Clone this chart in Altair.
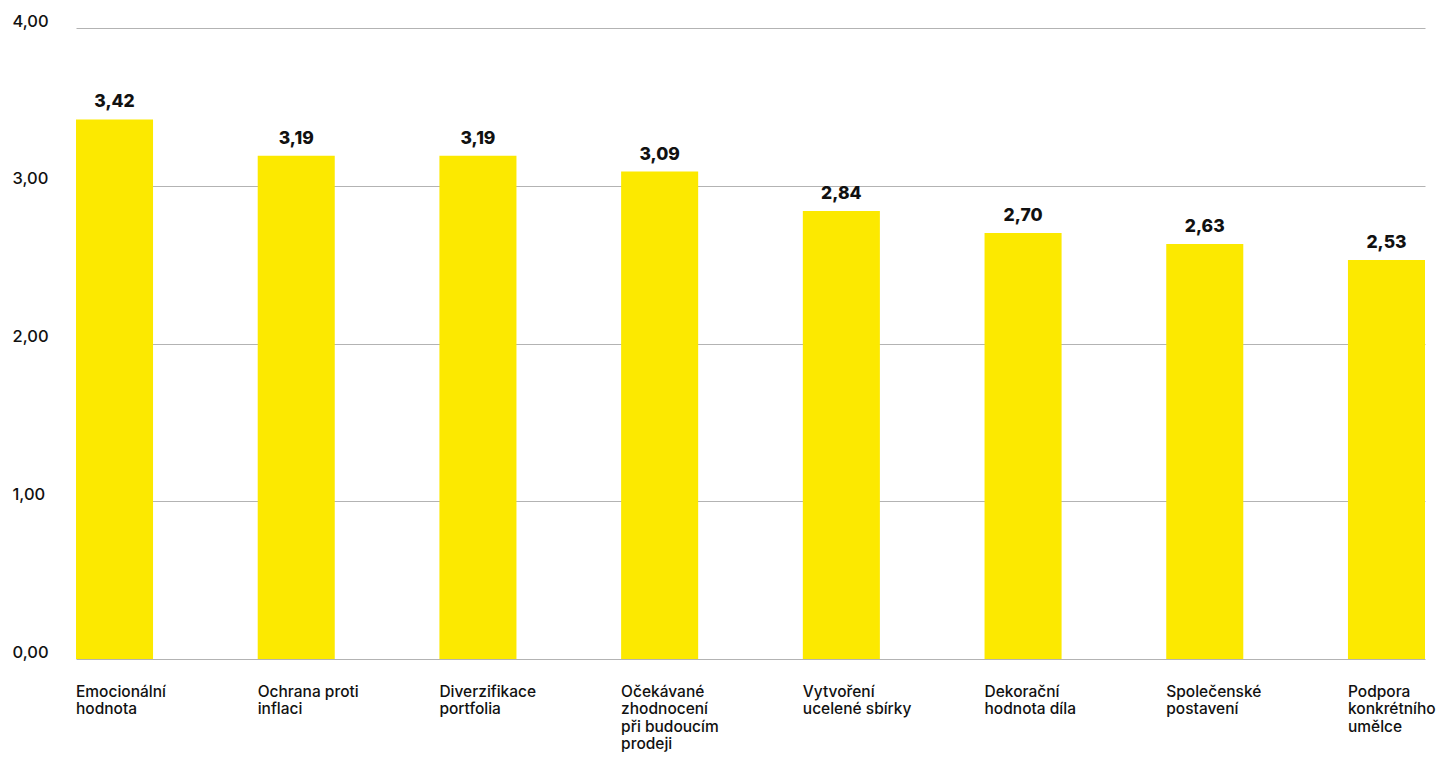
import altair as alt
import pandas as pd

categories = [
    "Emocionální\nhodnota",
    "Ochrana proti\ninflaci",
    "Diverzifikace\nportfolia",
    "Očekávané\nzhodnocení\npři budoucím\nprodeji",
    "Vytvoření\nucelené sbírky",
    "Dekorační\nhodnota díla",
    "Společenské\npostavení",
    "Podpora\nkonkrétního\numělce",
]
values = [3.42, 3.19, 3.19, 3.09, 2.84, 2.70, 2.63, 2.53]
y_ticks = [0, 1, 2, 3, 4]

df = pd.DataFrame({"cat": categories, "value": values})

FONT = "Inter"
PLOT_W = 1349
PAD_INNER = 0.576
step = PLOT_W / (len(categories) - PAD_INNER)
bar_w = step * (1 - PAD_INNER)

x = alt.X(
    "cat:N",
    sort=categories,
    scale=alt.Scale(paddingInner=PAD_INNER, paddingOuter=0),
    axis=alt.Axis(
        title=None,
        labelAlign="left",
        labelAngle=0,
        labelBaseline="top",
        labelPadding=25,
        labelOffset=-bar_w / 2,
        labelExpr="split(datum.label, '\\n')",
        labelLineHeight=17.5,
        labelFont=FONT,
        labelFontSize=15.5,
        labelFontWeight=500,
        labelColor="#111111",
        ticks=False,
        domain=False,
        grid=False,
        labelLimit=200,
        labelOverlap=False,
        labelBound=False,
    ),
)

y = alt.Y(
    "value:Q",
    scale=alt.Scale(domain=[0, 4], nice=False),
    axis=alt.Axis(
        title=None,
        values=y_ticks,
        labelExpr="replace(format(datum.value, '.2f'), '.', ',')",
        labelAlign="left",
        labelBaseline="alphabetic",
        labelOffset=-2,
        labelPadding=64,
        labelFont=FONT,
        labelFontSize=16.5,
        labelFontWeight=500,
        labelColor="#111111",
        ticks=False,
        domain=False,
        grid=True,
        gridColor="#b3b3b3",
        gridWidth=1,
    ),
)

bars = alt.Chart(df).mark_bar(color="#FCE900").encode(x=x, y=y)

text = (
    alt.Chart(df)
    .transform_calculate(lbl="replace(format(datum.value, '.2f'), '.', ',')")
    .mark_text(
        baseline="bottom",
        align="center",
        dy=-8,
        font=FONT,
        fontSize=17.5,
        fontWeight=800,
        color="#111111",
    )
    .encode(x=alt.X("cat:N", sort=categories), y="value:Q", text="lbl:N")
)

chart = (
    alt.layer(bars, text)
    .properties(
        width=PLOT_W,
        height=631,
        autosize=alt.AutoSizeParams(type="none"),
        padding={"left": 68, "top": 20, "right": 12, "bottom": 97},
    )
    .configure_view(stroke=None)
)

chart.save("out.html", embed_options={"renderer": "svg", "actions": False})
